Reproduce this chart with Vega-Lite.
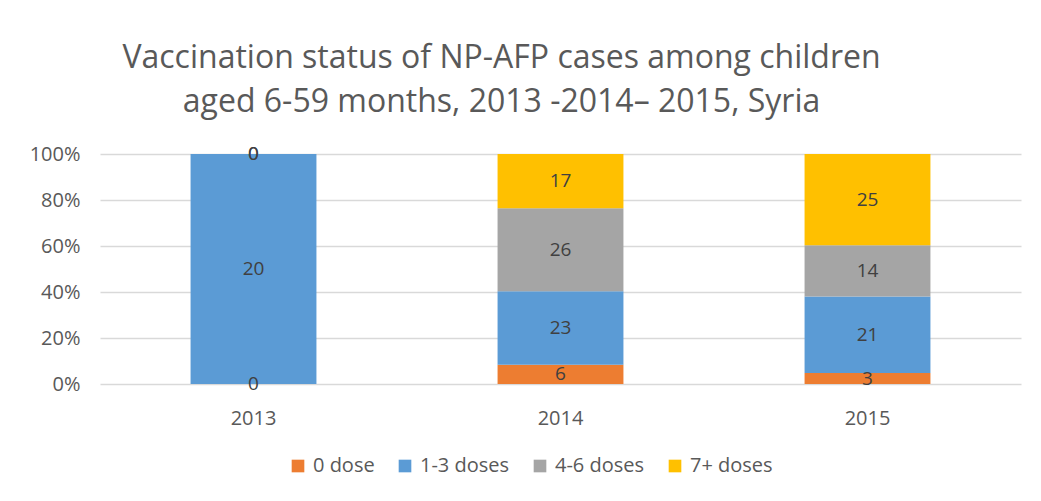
{
  "$schema": "https://vega.github.io/schema/vega-lite/v6.json",
  "width": 921,
  "height": 230,
  "autosize": {"type": "none"},
  "padding": {"left": 100, "top": 154, "right": 20, "bottom": 117},
  "background": "white",
  "title": {
    "text": ["Vaccination status of NP-AFP cases among children", "aged 6-59 months, 2013 -2014\u2013 2015, Syria"],
    "font": "Open Sans",
    "fontSize": 32,
    "fontWeight": "normal",
    "color": "#595959",
    "lineHeight": 44,
    "anchor": "middle",
    "frame": "group",
    "dx": -59,
    "offset": 25
  },
  "config": {
    "view": {"stroke": null},
    "font": "Open Sans"
  },
  "data": {
    "values": [
      {"year": "2013", "dose": "0 dose", "order": 1, "count": 0},
      {"year": "2013", "dose": "1-3 doses", "order": 2, "count": 20},
      {"year": "2013", "dose": "4-6 doses", "order": 3, "count": 0},
      {"year": "2013", "dose": "7+ doses", "order": 4, "count": 0},
      {"year": "2014", "dose": "0 dose", "order": 1, "count": 6},
      {"year": "2014", "dose": "1-3 doses", "order": 2, "count": 23},
      {"year": "2014", "dose": "4-6 doses", "order": 3, "count": 26},
      {"year": "2014", "dose": "7+ doses", "order": 4, "count": 17},
      {"year": "2015", "dose": "0 dose", "order": 1, "count": 3},
      {"year": "2015", "dose": "1-3 doses", "order": 2, "count": 21},
      {"year": "2015", "dose": "4-6 doses", "order": 3, "count": 14},
      {"year": "2015", "dose": "7+ doses", "order": 4, "count": 25}
    ]
  },
  "transform": [
    {"stack": "count", "groupby": ["year"], "sort": [{"field": "order", "order": "ascending"}], "offset": "normalize", "as": ["y0", "y1"]},
    {"calculate": "(datum.y0 + datum.y1) / 2", "as": "ymid"}
  ],
  "encoding": {
    "x": {
      "field": "year",
      "type": "nominal",
      "title": null,
      "scale": {"paddingInner": 0.59, "paddingOuter": 0.295},
      "axis": {
        "labelAngle": 0,
        "labelFont": "Open Sans",
        "labelFontSize": 20,
        "labelColor": "#595959",
        "labelPadding": 24,
        "domain": false,
        "ticks": false
      }
    }
  },
  "layer": [
    {
      "mark": {"type": "bar"},
      "encoding": {
        "y": {
          "field": "y0",
          "type": "quantitative",
          "title": null,
          "scale": {"domain": [0, 1], "nice": false},
          "axis": {
            "values": [0, 0.2, 0.4, 0.6, 0.8, 1],
            "format": ".0%",
            "labelFont": "Open Sans",
            "labelFontSize": 20,
            "labelColor": "#595959",
            "labelPadding": 20,
            "domain": false,
            "ticks": false,
            "gridColor": "#d9d9d9",
            "gridWidth": 1.5
          }
        },
        "y2": {"field": "y1"},
        "color": {
          "field": "dose",
          "type": "nominal",
          "sort": ["0 dose", "1-3 doses", "4-6 doses", "7+ doses"],
          "scale": {
            "domain": ["0 dose", "1-3 doses", "4-6 doses", "7+ doses"],
            "range": ["#ED7D31", "#5B9BD5", "#A5A5A5", "#FFC000"]
          },
          "legend": {
            "title": null,
            "orient": "none",
            "direction": "horizontal",
            "legendX": 188,
            "legendY": 302,
            "symbolType": "square",
            "symbolSize": 160,
            "symbolStrokeWidth": 0,
            "labelFont": "Open Sans",
            "labelFontSize": 20,
            "labelColor": "#595959",
            "columnPadding": 20,
            "labelOffset": 5
          }
        }
      }
    },
    {
      "mark": {"type": "text", "font": "Open Sans", "fontSize": 19, "color": "#404040", "baseline": "middle"},
      "encoding": {
        "y": {"field": "ymid", "type": "quantitative"},
        "text": {"field": "count", "type": "quantitative"}
      }
    }
  ]
}
